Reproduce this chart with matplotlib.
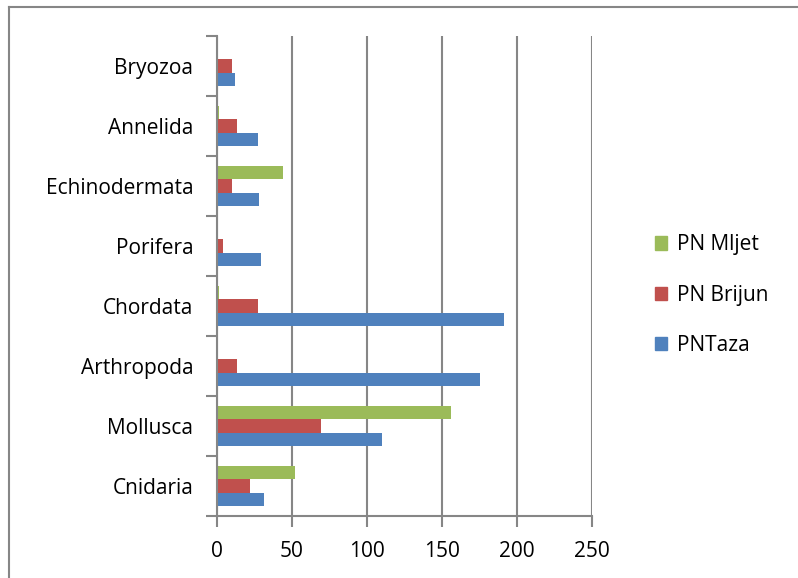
import numpy as np
import matplotlib
matplotlib.use("Agg")
import matplotlib.pyplot as plt
from matplotlib.lines import Line2D
from matplotlib.patches import Patch

categories = ["Cnidaria", "Mollusca", "Arthropoda", "Chordata",
              "Porifera", "Echinodermata", "Annelida", "Bryozoa"]
pn_taza = [31, 110, 175, 191, 29, 28, 27, 12]
pn_brijun = [22, 69, 13, 27, 4, 10, 13, 10]
pn_mljet = [52, 156, 0, 1, 0, 44, 1, 0]
xticks = [0, 50, 100, 150, 200, 250]

c_blue = "#4F81BD"
c_red = "#C0504D"
c_green = "#9BBB59"
grid_c = "#868686"

plt.rcParams["font.family"] = ["Open Sans", "DejaVu Sans"]

fig = plt.figure(figsize=(7.98, 5.78), dpi=100)
ax = fig.add_axes([217 / 798, 1 - 516 / 578, 375 / 798, 480 / 578])

y = np.arange(len(categories))
h = 0.222
ax.barh(y - h, pn_taza, height=h, color=c_blue, zorder=3)
ax.barh(y, pn_brijun, height=h, color=c_red, zorder=3)
ax.barh(y + h, pn_mljet, height=h, color=c_green, zorder=3)

ax.set_xlim(0, 250)
ax.set_ylim(-0.5, len(categories) - 0.5)
ax.set_xticks(xticks)
ax.set_xticklabels([str(v) for v in xticks], fontsize=15)
ax.set_yticks(y)
ax.set_yticklabels(categories, fontsize=15)
ax.tick_params(axis="y", length=0, pad=17)
ax.set_yticks(np.arange(len(categories) + 1) - 0.5, minor=True)
ax.tick_params(axis="y", which="minor", length=8, color=grid_c, width=1.5)
ax.tick_params(axis="x", length=8, color=grid_c, width=1.5, pad=10)

ax.grid(axis="x", color=grid_c, linewidth=1.5, zorder=0)
for s in ["top", "right"]:
    ax.spines[s].set_visible(False)
for s in ["left", "bottom"]:
    ax.spines[s].set_color(grid_c)
    ax.spines[s].set_linewidth(1.5)
    ax.spines[s].set_zorder(4)

handles = [Patch(color=c_green, label="PN Mljet"),
           Patch(color=c_red, label="PN Brijun"),
           Patch(color=c_blue, label="PNTaza")]
fig.legend(handles=handles, loc="center left", bbox_to_anchor=(636 / 798, 1 - 295 / 578),
           frameon=False, fontsize=15, handlelength=0.6, handleheight=0.6,
           labelspacing=1.4, handletextpad=0.45)

# outer chart border (top and left edges visible)
fig.add_artist(Line2D([9 / 798, 1], [1 - 7 / 578, 1 - 7 / 578], color=grid_c, linewidth=1.5))
fig.add_artist(Line2D([9 / 798, 9 / 798], [0, 1 - 7 / 578], color=grid_c, linewidth=1.5))

fig.savefig("out.png", dpi=100)
